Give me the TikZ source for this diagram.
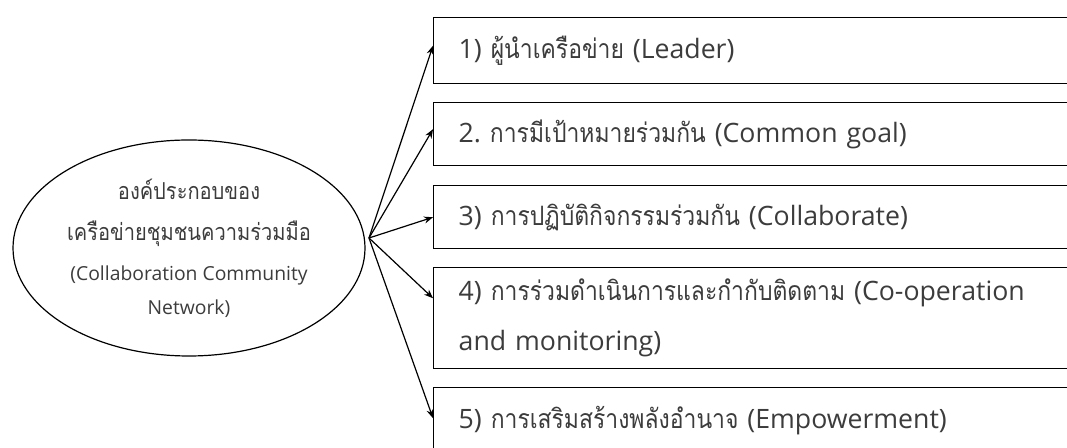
\documentclass[tikz,border=0pt]{standalone}
\usepackage{fontspec}
\usetikzlibrary{shapes.geometric,arrows.meta}
\setmainfont{Open Sans}
\newfontfamily\thaifont[Script=Thai, Scale=1.0, FakeStretch=0.86]{Loma}
\newcommand\tht[1]{{\thaifont #1}}
\definecolor{txtgray}{RGB}{60,60,60}
\newcommand\pxu{0.75pt}
\tikzset{
  itembox/.style={draw=black, line width=1.1pt, rectangle, anchor=north west,
    minimum width=660*\pxu, text width=610*\pxu, align=left,
    inner xsep=20*\pxu, inner ysep=0pt, text=txtgray,
    font=\frenchspacing\fontsize{20}{37.5}\selectfont},
  link/.style={line width=0.9pt, -{Stealth[length=9*\pxu, width=7*\pxu]}}
}
\begin{document}
\begin{tikzpicture}[x=0.75pt, y=-0.75pt]
\clip (0,0) rectangle (1067,448);
\fill[white] (0,0) rectangle (1067,448);

% central ellipse
\node[ellipse, draw=black, line width=0.9pt, minimum width=352*\pxu, minimum height=216*\pxu,
  inner sep=0pt, align=center, text=txtgray,
  font=\fontsize{17.5}{31}\selectfont] (core) at (189,248)
  {\tht{องค์ประกอบของ}\\\tht{เครือข่ายชุมชนความร่วมมือ}\\[-1pt]
   {\fontsize{14.5}{25}\selectfont(Collaboration Community}\\[-6pt]
   {\fontsize{14.5}{25}\selectfont Network)}};

% component boxes
\node[itembox, minimum height=66*\pxu] (b1) at (433,17)
  {1) \tht{ผู้นำเครือข่าย} (Leader)};
\node[itembox, minimum height=63*\pxu] (b2) at (433,102)
  {2. \tht{การมีเป้าหมายร่วมกัน} (Common goal)};
\node[itembox, minimum height=63*\pxu] (b3) at (433,185)
  {3) \tht{การปฏิบัติกิจกรรมร่วมกัน} (Collaborate)};
\node[itembox, minimum height=101*\pxu] (b4) at (433,267)
  {4) \tht{การร่วมดำเนินการและกำกับติดตาม} (Co-operation\\and monitoring)};
\node[itembox, minimum height=65*\pxu] (b5) at (433,387)
  {5) \tht{การเสริมสร้างพลังอำนาจ} (Empowerment)};

% connectors from the ellipse
\coordinate (hub) at (369,238);
\draw[link] (hub) -- ([yshift=5*\pxu]b1.west);
\draw[link] (hub) -- ([yshift=5*\pxu]b2.west);
\draw[link] (hub) -- (b3.west);
\draw[link] (hub) -- ([yshift=20*\pxu]b4.west);
\draw[link] (hub) -- ([yshift=2*\pxu]b5.west);
\end{tikzpicture}
\end{document}
